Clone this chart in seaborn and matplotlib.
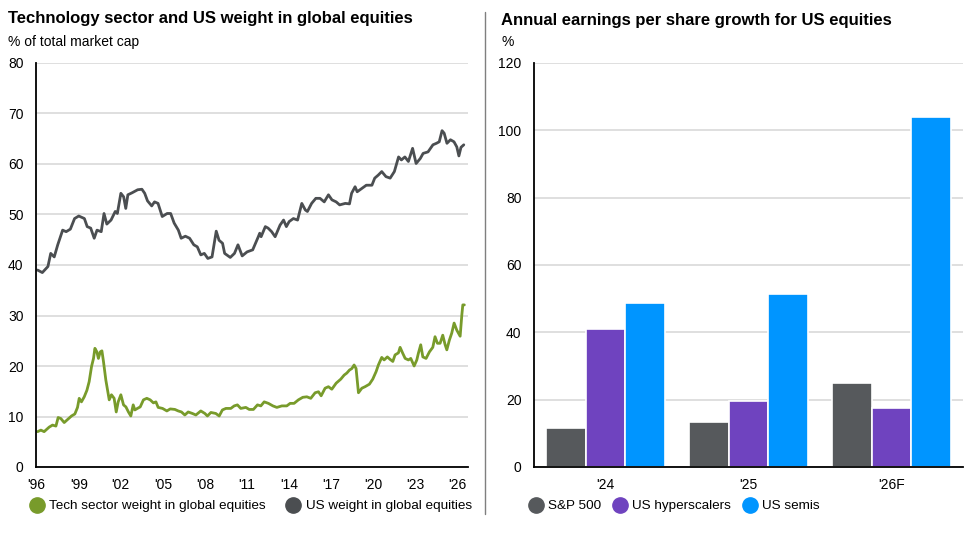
import numpy as np
import pandas as pd
import matplotlib
matplotlib.use("Agg")
import matplotlib.pyplot as plt
from matplotlib.lines import Line2D
import seaborn as sns

# ---------------- data ----------------
us_years = [1996.06, 1996.4, 1996.8, 1997.0, 1997.25, 1997.5, 1997.85, 1998.1, 1998.4, 1998.7,
            1999.0, 1999.4, 1999.6, 1999.85, 2000.1, 2000.3, 2000.6, 2000.8, 2001.0, 2001.3,
            2001.6, 2001.75, 2002.0, 2002.2, 2002.35, 2002.5, 2002.8, 2003.2, 2003.5, 2003.7,
            2003.9, 2004.2, 2004.4, 2004.65, 2004.95, 2005.3, 2005.55, 2005.8, 2006.1, 2006.3,
            2006.6, 2006.9, 2007.2, 2007.45, 2007.7, 2007.95, 2008.2, 2008.5, 2008.8, 2009.0,
            2009.25, 2009.4, 2009.8, 2010.1, 2010.35, 2010.65, 2011.0, 2011.4, 2011.8, 2011.9,
            2012.0, 2012.3, 2012.5, 2012.75, 2013.0, 2013.35, 2013.6, 2013.8, 2014.0, 2014.3,
            2014.6, 2014.9, 2015.15, 2015.3, 2015.6, 2015.9, 2016.2, 2016.5, 2016.8, 2017.05,
            2017.35, 2017.6, 2018.0, 2018.3, 2018.45, 2018.7, 2018.85, 2019.2, 2019.5, 2019.9,
            2020.1, 2020.35, 2020.6, 2020.9, 2021.2, 2021.5, 2021.8, 2022.0, 2022.25, 2022.5,
            2022.8, 2023.05, 2023.35, 2023.55, 2023.9, 2024.25, 2024.5, 2024.7, 2024.9, 2025.05,
            2025.25, 2025.5, 2025.75, 2025.95, 2026.1, 2026.25, 2026.45]
us_weight = [39.0, 38.5, 39.7, 42.3, 41.6, 44.0, 46.9, 46.6, 47.1, 49.2,
             49.7, 49.2, 47.6, 47.3, 45.3, 46.9, 46.6, 50.2, 48.1, 48.9,
             50.6, 50.2, 54.2, 53.5, 51.2, 53.9, 54.3, 54.9, 55.0, 54.2,
             52.7, 51.7, 52.5, 52.2, 49.6, 50.2, 50.2, 48.3, 46.9, 45.3,
             45.7, 45.3, 44.0, 43.6, 42.0, 42.3, 41.3, 41.6, 46.7, 44.9,
             44.3, 42.3, 41.5, 42.3, 44.0, 41.8, 42.6, 43.0, 45.6, 46.3,
             45.6, 47.6, 47.3, 46.6, 45.6, 47.9, 48.9, 47.6, 48.6, 49.2,
             48.9, 52.2, 50.9, 50.6, 52.2, 53.2, 53.2, 52.5, 53.9, 52.9,
             52.5, 51.9, 52.2, 52.1, 54.2, 55.5, 54.5, 55.2, 55.8, 55.8,
             57.2, 57.8, 58.5, 57.5, 57.2, 58.5, 61.4, 60.8, 61.4, 60.5,
             63.1, 60.1, 61.1, 62.1, 62.4, 63.8, 64.1, 64.4, 66.6, 66.1,
             64.1, 64.8, 64.4, 63.4, 61.6, 63.3, 63.8]

tech_years = [1996.06, 1996.3, 1996.53, 1996.89, 1997.13, 1997.37, 1997.53, 1997.72, 1997.96, 1998.2,
              1998.48, 1998.72, 1998.91, 1999.03, 1999.19, 1999.39, 1999.58, 1999.74, 1999.91, 2000.05,
              2000.15, 2000.29, 2000.4, 2000.53, 2000.65, 2000.76, 2000.93, 2001.05, 2001.17, 2001.33,
              2001.52, 2001.67, 2001.81, 2002.0, 2002.19, 2002.36, 2002.54, 2002.71, 2002.88, 2003.0,
              2003.18, 2003.38, 2003.61, 2003.85, 2004.09, 2004.32, 2004.5, 2004.66, 2004.97, 2005.28,
              2005.52, 2005.85, 2006.09, 2006.32, 2006.56, 2006.8, 2007.1, 2007.35, 2007.7, 2007.99,
              2008.17, 2008.42, 2008.77, 2009.01, 2009.24, 2009.49, 2009.84, 2010.08, 2010.31, 2010.55,
              2010.91, 2011.15, 2011.45, 2011.74, 2011.98, 2012.22, 2012.52, 2012.84, 2013.12, 2013.48,
              2013.83, 2014.07, 2014.35, 2014.66, 2014.97, 2015.26, 2015.54, 2015.85, 2016.09, 2016.28,
              2016.56, 2016.8, 2017.04, 2017.35, 2017.68, 2017.92, 2018.11, 2018.3, 2018.47, 2018.63,
              2018.77, 2018.94, 2019.18, 2019.41, 2019.72, 2019.96, 2020.2, 2020.36, 2020.6, 2020.77,
              2021.0, 2021.2, 2021.39, 2021.55, 2021.79, 2021.91, 2022.1, 2022.27, 2022.5, 2022.67,
              2022.91, 2023.1, 2023.21, 2023.38, 2023.53, 2023.76, 2024.0, 2024.24, 2024.4, 2024.57,
              2024.76, 2024.95, 2025.12, 2025.24, 2025.42, 2025.59, 2025.76, 2025.95, 2026.19, 2026.31,
              2026.38, 2026.49]
tech_weight = [7.0, 7.3, 7.0, 7.9, 8.3, 8.1, 9.8, 9.6, 8.8, 9.4,
               10.1, 10.5, 11.8, 13.6, 12.9, 13.9, 15.2, 16.9, 19.9, 21.5,
               23.5, 22.8, 21.5, 22.8, 23.0, 20.9, 17.2, 15.2, 13.3, 14.3,
               13.6, 10.9, 12.9, 14.3, 12.3, 11.9, 10.9, 10.1, 12.3, 11.3,
               11.6, 11.9, 13.3, 13.6, 13.3, 12.7, 12.9, 11.8, 11.6, 11.1,
               11.5, 11.4, 11.1, 10.9, 10.3, 10.9, 10.6, 10.3, 11.1, 10.6,
               10.1, 10.8, 10.6, 10.1, 11.3, 11.6, 11.6, 12.1, 12.3, 11.6,
               11.8, 11.4, 11.4, 12.3, 12.1, 12.9, 12.6, 12.1, 11.8, 12.1,
               12.1, 12.6, 12.6, 13.3, 13.8, 13.9, 13.6, 14.7, 14.9, 14.1,
               15.6, 15.9, 15.4, 16.6, 17.4, 18.2, 18.6, 19.2, 19.5, 20.2,
               19.5, 14.7, 15.6, 15.9, 16.4, 17.4, 18.9, 20.2, 21.7, 21.2,
               21.8, 21.3, 20.9, 22.2, 22.6, 23.7, 22.5, 21.5, 21.2, 21.5,
               20.0, 21.2, 22.5, 24.2, 21.8, 21.5, 22.8, 23.7, 25.8, 24.5,
               24.5, 26.1, 24.2, 23.2, 25.1, 26.5, 28.5, 27.1, 25.9, 30.1,
               32.1, 32.1]

line_series = ["Tech sector weight in global equities", "US weight in global equities"]
year_ticks = list(range(1996, 2027, 3))
year_labels = ["'96", "'99", "'02", "'05", "'08", "'11", "'14", "'17", "'20", "'23", "'26"]

periods = ["'24", "'25", "'26F"]
bar_groups = ["S&P 500", "US hyperscalers", "US semis"]
sp500 = [11.5, 13.5, 25.0]
hyperscalers = [41.0, 19.5, 17.5]
semis = [48.8, 51.5, 104.0]

# ---------------- style ----------------
sns.set_theme(style="white")
plt.rcParams["font.family"] = ["Liberation Sans", "DejaVu Sans"]
plt.rcParams["text.color"] = "black"

GREEN = "#789b2b"
DGRAY = "#4b4e51"
BGRAY = "#56595c"
PURPLE = "#6f43bf"
BLUE = "#0095ff"
GRID = "#d6d6d6"
FS = 10
LFS = 9.7

W, H = 980, 538
fig = plt.figure(figsize=(W / 100, H / 100), dpi=100)
fig.patch.set_facecolor("white")

def fx(px):
    return px / W

def fy(py):
    return 1 - py / H

ax1 = fig.add_axes([fx(36), fy(467), (468 - 36) / W, (467 - 63) / H])
ax2 = fig.add_axes([fx(534), fy(467), (963 - 534) / W, (467 - 63) / H])

# ---------------- left: lines ----------------
df_lines = pd.concat([
    pd.DataFrame({"year": tech_years, "value": tech_weight, "series": line_series[0]}),
    pd.DataFrame({"year": us_years, "value": us_weight, "series": line_series[1]}),
], ignore_index=True)

sns.lineplot(data=df_lines, x="year", y="value", hue="series",
             palette={line_series[0]: GREEN, line_series[1]: DGRAY},
             estimator=None, linewidth=2.0, ax=ax1, legend=False)

ax1.set_xlim(1995.95, 2026.75)
ax1.set_ylim(0, 80)
ax1.set_yticks(range(0, 81, 10))
ax1.set_xticks(year_ticks)
ax1.set_xticklabels(year_labels)

# ---------------- right: bars ----------------
df_bars = pd.DataFrame({
    "period": periods * 3,
    "group": [bar_groups[0]] * 3 + [bar_groups[1]] * 3 + [bar_groups[2]] * 3,
    "value": sp500 + hyperscalers + semis,
})
sns.barplot(data=df_bars, x="period", y="value", hue="group", order=periods,
            hue_order=bar_groups,
            palette={bar_groups[0]: BGRAY, bar_groups[1]: PURPLE, bar_groups[2]: BLUE},
            width=0.83, saturation=1, edgecolor="white", linewidth=1.2,
            ax=ax2, legend=False)

ax2.set_xlim(-0.5, 2.5)
ax2.set_ylim(0, 120)
ax2.set_yticks(range(0, 121, 20))
ax2.set_xticks([0, 1, 2])
ax2.set_xticklabels(periods)
ax2.set_xticks([-0.5, 0.5, 1.5, 2.5], minor=True)

# ---------------- common axis styling ----------------
for ax in (ax1, ax2):
    ax.set_xlabel("")
    ax.set_ylabel("")
    ax.yaxis.grid(True, color=GRID, linewidth=1.1)
    ax.xaxis.grid(False)
    ax.set_axisbelow(True)
    for s in ("top", "right"):
        ax.spines[s].set_visible(False)
    for s in ("left", "bottom"):
        ax.spines[s].set_color("black")
        ax.spines[s].set_linewidth(1.3)
    ax.tick_params(axis="y", length=0, pad=9, labelsize=FS, labelcolor="black")
    ax.set_facecolor("white")

ax1.tick_params(axis="x", length=5, width=1, color="black", direction="out",
                pad=3, labelsize=FS, labelcolor="black")
ax2.tick_params(axis="x", which="major", length=0, pad=8, labelsize=FS, labelcolor="black")
ax2.tick_params(axis="x", which="minor", length=5, width=1, color="black", direction="out")

# ---------------- titles ----------------
fig.text(fx(8), fy(19), "Technology sector and US weight in global equities",
         fontsize=12, fontweight="bold", va="center", ha="left", color="black")
fig.text(fx(8), fy(42), "% of total market cap", fontsize=FS, va="center", ha="left",
         color="black")
fig.text(fx(501), fy(21), "Annual earnings per share growth for US equities",
         fontsize=12, fontweight="bold", va="center", ha="left", color="black")
fig.text(fx(501), fy(42), "%", fontsize=FS, va="center", ha="left", color="black")

# separator
fig.add_artist(Line2D([fx(485), fx(485)], [fy(12), fy(514)], color="#7f7f7f", linewidth=1))

# ---------------- legends ----------------
def circ(c):
    return Line2D([], [], marker="o", linestyle="", markersize=11,
                  markerfacecolor=c, markeredgecolor=c)

fig.legend([circ(GREEN), circ(DGRAY)], line_series, loc="center left",
           bbox_to_anchor=(fx(27), fy(506)), ncol=2, frameon=False, fontsize=LFS,
           handletextpad=0.15, columnspacing=1.3, borderaxespad=0, borderpad=0,
           handlelength=1.5, labelcolor="black")
fig.legend([circ(BGRAY), circ(PURPLE), circ(BLUE)], bar_groups, loc="center left",
           bbox_to_anchor=(fx(526), fy(506)), ncol=3, frameon=False, fontsize=LFS,
           handletextpad=0.15, columnspacing=0.65, borderaxespad=0, borderpad=0,
           handlelength=1.5, labelcolor="black")

fig.savefig("out.png", dpi=100, facecolor="white")
